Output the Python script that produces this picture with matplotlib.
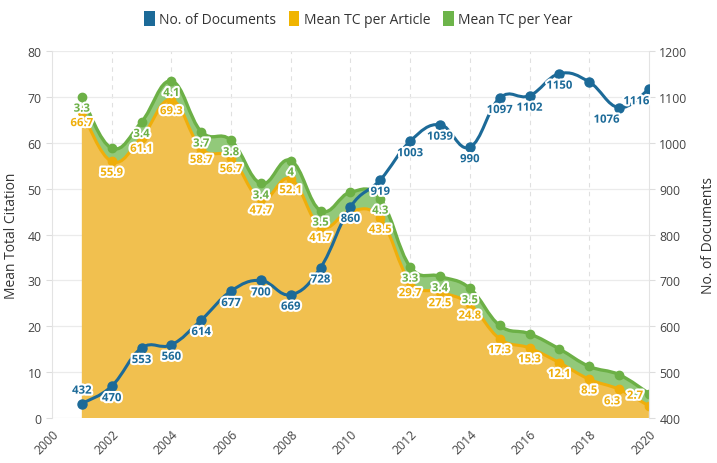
import matplotlib
matplotlib.use("Agg")
import matplotlib.pyplot as plt
import matplotlib.patheffects as pe
from matplotlib.path import Path
from matplotlib.patches import PathPatch, Patch
import numpy as np

plt.rcParams['font.family'] = ['Open Sans', 'DejaVu Sans']

# --- data ---
years = [2001, 2002, 2003, 2004, 2005, 2006, 2007, 2008, 2009, 2010,
         2011, 2012, 2013, 2014, 2015, 2016, 2017, 2018, 2019, 2020]
n_docs = [432, 470, 553, 560, 614, 677, 700, 669, 728, 860,
          919, 1003, 1039, 990, 1097, 1102, 1150, 1132, 1076, 1116]
tc_article = [66.7, 55.9, 61.1, 69.3, 58.7, 56.7, 47.7, 52.1, 41.7, 45.1,
              43.5, 29.7, 27.5, 24.8, 17.3, 15.3, 12.1, 8.5, 6.3, 2.7]
tc_year = [3.3, 2.9, 3.4, 4.1, 3.7, 3.8, 3.4, 4.0, 3.5, 4.1,
           4.3, 3.3, 3.4, 3.5, 2.9, 3.1, 3.0, 2.8, 3.2, 2.7]

# which point labels are visible in the reference
show_docs = [True] * 20
show_docs[17] = False
show_article = [True] * 20
show_article[9] = False
show_year = [True] * 14 + [False] * 6
show_year[1] = False
show_year[9] = False

BLUE = '#1c6a98'
ORANGE = '#efae0a'
ORANGE_FILL = '#f1c04f'
GREEN = '#6cb046'
GREEN_FILL = '#92c97a'


def smooth(x, y, k=0.2):
    # cubic bezier segments through every point (catmull-rom style)
    n = len(x)
    verts = [(x[0], y[0])]
    for i in range(n - 1):
        a = max(i - 1, 0)
        b = min(i + 2, n - 1)
        c1 = (x[i] + (x[i + 1] - x[a]) * k, y[i] + (y[i + 1] - y[a]) * k)
        c2 = (x[i + 1] - (x[b] - x[i]) * k, y[i + 1] - (y[b] - y[i]) * k)
        verts += [c1, c2, (x[i + 1], y[i + 1])]
    return verts


def curve_codes(nv, first=Path.MOVETO):
    return [first] + [Path.CURVE4] * (nv - 1)


x = np.array(years, dtype=float)
art = np.array(tc_article)
tot = art + np.array(tc_year)
docs = np.array(n_docs, dtype=float)

fig = plt.figure(figsize=(7.17, 4.64), dpi=100)
ax = fig.add_axes([0.0725, 0.0963, 0.8325, 0.7923])
ax2 = ax.twinx()

v_art = smooth(x, art)
v_tot = smooth(x, tot)

# orange area
verts = v_art + [(x[-1], 0), (x[0], 0), (x[0], art[0])]
codes = curve_codes(len(v_art)) + [Path.LINETO, Path.LINETO, Path.CLOSEPOLY]
ax.add_patch(PathPatch(Path(verts, codes), facecolor=ORANGE_FILL, edgecolor='none', zorder=1))

# green band stacked on top
rev = v_art[::-1]
verts = v_tot + rev + [v_tot[0]]
codes = curve_codes(len(v_tot)) + curve_codes(len(rev), Path.LINETO) + [Path.CLOSEPOLY]
ax.add_patch(PathPatch(Path(verts, codes), facecolor=GREEN_FILL, edgecolor='none', zorder=1))

ax.add_patch(PathPatch(Path(v_art, curve_codes(len(v_art))), facecolor='none',
                       edgecolor=ORANGE, lw=2.2, zorder=3))
ax.add_patch(PathPatch(Path(v_tot, curve_codes(len(v_tot))), facecolor='none',
                       edgecolor=GREEN, lw=2.4, zorder=3))
ax.plot(x, art, 'o', color=ORANGE, ms=6, zorder=4)
ax.plot(x, tot, 'o', color=GREEN, ms=6, zorder=4)

v_docs = smooth(x, docs)
ax2.add_patch(PathPatch(Path(v_docs, curve_codes(len(v_docs))), facecolor='none',
                        edgecolor=BLUE, lw=2.2, zorder=3))
ax2.plot(x, docs, 'o', color=BLUE, ms=6.5, zorder=4)

halo = [pe.withStroke(linewidth=3, foreground='white')]
lab_kw = dict(fontsize=8.2, fontweight='bold', ha='center', va='center',
              path_effects=halo, zorder=6)

for i in range(len(years)):
    if show_year[i]:
        ax.annotate(f"{tc_year[i]:g}", (x[i], tot[i]), xytext=(0, -9),
                    textcoords='offset points', color=GREEN, **lab_kw)
    if show_article[i]:
        dx, dy = 0, -8.5
        if i == 19:
            dx, dy = -10, 7
        elif i == 18:
            dx, dy = -5, -9
        ax.annotate(f"{tc_article[i]:g}", (x[i], art[i]), xytext=(dx, dy),
                    textcoords='offset points', color=ORANGE, **lab_kw)
    if show_docs[i]:
        dx, dy = 0, -9
        if i == 0:
            dy = 9
        elif i in (18, 19):
            dx = -9
        ax2.annotate(f"{n_docs[i]}", (x[i], docs[i]), xytext=(dx, dy),
                     textcoords='offset points', color=BLUE, **lab_kw)

# axes
ax.set_xlim(2000, 2020)
ax.set_ylim(0, 80)
ax2.set_ylim(400, 1200)
ax.set_xticks(range(2000, 2021, 2))
ax.set_yticks(range(0, 81, 10))
ax2.set_yticks(range(400, 1201, 100))
for lbl in ax.get_xticklabels():
    lbl.set_rotation(45)
    lbl.set_ha('right')
    lbl.set_rotation_mode('anchor')

ax.grid(axis='y', color='#ebebeb', lw=0.9)
for xv in range(2002, 2020, 2):
    ax.axvline(xv, color='#e0e0e0', lw=0.8, ls=(0, (4, 4)), zorder=0)
ax.set_axisbelow(True)

for a in (ax, ax2):
    for s in a.spines.values():
        s.set_visible(False)
    a.tick_params(labelsize=8.8, labelcolor='#444444', color='#dddddd', length=4)
ax.spines['left'].set_visible(True)
ax.spines['left'].set_color('#e3e3e3')
ax2.spines['right'].set_visible(True)
ax2.spines['right'].set_color('#e3e3e3')
ax.tick_params(axis='x', length=0, pad=6)

ax.set_ylabel('Mean Total Citation', fontsize=10, color='#333333', labelpad=6)
ax2.set_ylabel('No. of Documents', fontsize=10, color='#333333', labelpad=10)

handles = [Patch(facecolor=BLUE, label='No. of Documents'),
           Patch(facecolor='#f0b400', label='Mean TC per Article'),
           Patch(facecolor='#6db44a', label='Mean TC per Year')]
fig.legend(handles=handles, loc='center', bbox_to_anchor=(0.5, 0.957), ncol=3,
           frameon=False, fontsize=10, handlelength=0.75, handleheight=1.3,
           handletextpad=0.35, columnspacing=0.9, labelcolor='#333333')

fig.savefig('out.png', dpi=100)
